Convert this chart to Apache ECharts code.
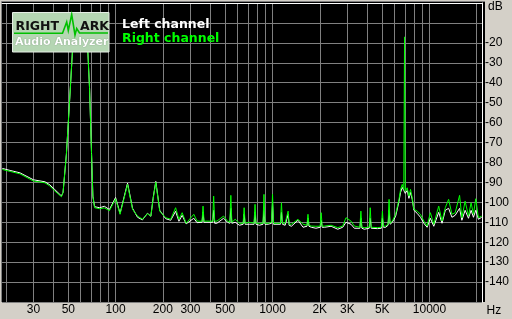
<!DOCTYPE html>
<html><head><meta charset="utf-8">
<script src="https://cdn.jsdelivr.net/npm/echarts@6/dist/echarts.min.js"></script>
<style>html,body{margin:0;padding:0;background:#d4d0c8;}#c{width:512px;height:319px;}</style>
</head><body><div id="c"></div>
<script>
// frequency grid (Hz)
const freqHz = [
 19,21.3,24.6,30,35.5,38.1,41.0,45.2,46.3,48.6,
 51.0,53.1,54.9,59.0,63.5,66.6,68.3,70.3,71.7,73.5,
 79.0,84.9,91.4,100,106.8,119.2,128.3,138,148.4,159.6,
 167.8,173.4,180.4,191.2,208.7,224.4,241.3,253.3,265.7,281.6,
 315,330.6,355.5,360.8,366,382.4,415.4,421.6,428,442.3,
 487.9,517,534.5,542.5,550.6,578.4,615.8,649.7,659.4,669.3,
 712.2,762.4,773.8,785.4,824.2,869.2,882.2,895.4,939.3,986,
 1000,1015,1123,1140,1157,1203,1238,1257,1276,1319,
 1454,1564,1657,1682,1707,1765,1890,2011,2041,2072,
 2145,2362,2604,2801,2939,3160,3320,3602,3656,3711,
 3840,4130,4192,4255,4334,4662,4939,5013,5088,5260,
 5445,5527,5610,5800,6085,6393,6544,6709,6857,6937,
 7009,7215,7396,7572,7762,7955,8345,8757,9203,9656,
 10130,10650,11450,12020,12610,13240,13900,14580,15550,16080,
 16870,17720,18410,19060,19710,20500,21510];
// right channel level (dB)
const rightDb = [
 -83.5,-84.5,-85.7,-89.3,-90.2,-91.8,-94.3,-97.2,-95,-76,
 -48.5,-24.5,-9.5,-6,-9.5,-24.5,-43,-75.5,-96.9,-102.7,
 -103.2,-102.8,-104.2,-98.2,-106,-91,-103.5,-106.9,-108.5,-105.7,
 -106.9,-98.5,-89.9,-104.4,-107.7,-108.5,-102.7,-108.5,-105.2,-110.5,
 -106,-109.4,-109.5,-101.9,-109.5,-109.4,-109.5,-96.9,-109.5,-109.4,
 -106.9,-109.5,-110,-96.5,-110,-108.5,-110.5,-110.5,-102.7,-110.5,
 -110,-110.5,-101,-110.5,-110.5,-110.5,-96,-110.5,-110.5,-110,
 -96,-110.5,-110.5,-100.2,-110.5,-110.5,-111,-104.4,-111,-111,
 -108.5,-111,-111.5,-106,-111.5,-111.9,-112,-112,-105.2,-112,
 -111.9,-111.5,-112.7,-111.9,-107.7,-109.4,-111.9,-112.5,-104.4,-112.5,
 -112.7,-112.5,-102.7,-112.5,-112.7,-112.7,-112.5,-104.4,-112,-111.9,
 -111,-98.5,-110.5,-109.4,-106,-98.5,-93.5,-91,-93.5,-17,
 -94.5,-92.7,-96.9,-93.5,-97.7,-103.5,-104.4,-106,-109.4,-111.9,
 -105.2,-111,-101.9,-109.4,-102.7,-98.5,-106,-105.2,-96.5,-107.7,
 -99.4,-106.9,-100.2,-106,-98.2,-107.7,-106.9];
// left channel level (dB)
const leftDb = [
 -83,-84,-85.2,-88.7,-89.7,-91.2,-93.6,-96.8,-95,-76,
 -48.5,-24.5,-9.5,-6,-9.5,-24.5,-43,-75.5,-96.9,-102.2,
 -102.7,-102,-103.6,-97.6,-105.5,-90.4,-103,-107.5,-108.8,-105.5,
 -107,-98,-89.5,-104,-108.2,-109,-104.5,-109.5,-106.5,-110.8,
 -108,-110.2,-110,-105,-110,-110,-110,-104,-110.5,-110.5,
 -108,-110,-110.5,-103,-110.5,-110,-111.5,-111,-106,-111,
 -111,-111,-105,-111,-111.5,-111,-104,-111,-111,-110.5,
 -100,-111,-111,-105,-111,-111.5,-111.5,-106,-111.5,-112,
 -109,-112.5,-112,-108,-112,-112.5,-113,-112.5,-109,-112.5,
 -112.5,-112,-113.5,-112.5,-110,-111,-113,-113,-108,-113,
 -113.5,-113,-108,-113,-113.5,-113.2,-113,-108,-112.5,-112.5,
 -111.5,-104,-111,-110,-107,-99.5,-95,-92.5,-94,-95,
 -95.5,-94,-98,-95,-98.5,-104,-105.5,-107.5,-110.5,-112.5,
 -108,-112,-105,-110.5,-104,-103,-107.5,-106.5,-103,-109,
 -104,-108,-104,-107.5,-104,-108.5,-107.5];
const seriesNames = ['Left channel', 'Right channel'];
const xGridHz = [20,30,40,50,60,70,80,90,100,200,300,400,500,600,700,800,900,1000,2000,3000,4000,5000,6000,7000,8000,9000,10000,20000];
const xLabelHz = [30,50,100,200,300,500,1000,2000,3000,5000,10000];
const xLabelText = ['30','50','100','200','300','500','1000','2K','3K','5K','10000'];
const yLabelDb = [-20,-30,-40,-50,-60,-70,-80,-90,-100,-110,-120,-130,-140];
const xUnit = 'Hz';
const yUnit = 'dB';

const pairs = arr => freqHz.map((f, i) => [f, arr[i]]);
const labelFont = '"Liberation Sans Narrow","Liberation Sans",Arial,sans-serif';

const chart = echarts.init(document.getElementById('c'), null, {renderer: 'canvas'});
chart.setOption({
  animation: false,
  backgroundColor: '#d4d0c8',
  grid: {left: 2, right: 27, top: 3, bottom: 17, show: true, backgroundColor: '#000', borderWidth: 0},
  legend: {
    left: 112, top: 13, orient: 'vertical', itemGap: 0, itemWidth: 0, itemHeight: 0, icon: 'rect',
    selectedMode: false,
    textStyle: {fontFamily: 'DejaVu Sans', fontWeight: 'bold', fontSize: 12.5, lineHeight: 14},
    data: [
      {name: seriesNames[0], textStyle: {color: '#ffffff'}},
      {name: seriesNames[1], textStyle: {color: '#00ff00'}}
    ]
  },
  xAxis: {
    type: 'log', logBase: 10, min: 18.9, max: 21600,
    axisLine: {show: true, lineStyle: {color: '#ffffff', width: 1}},
    axisTick: {show: false, customValues: xGridHz},
    splitLine: {show: true, lineStyle: {color: '#808080', width: 1}},
    minorSplitLine: {show: false},
    axisLabel: {
      customValues: xLabelHz, margin: 2, color: '#000', fontFamily: labelFont, fontSize: 12,
      formatter: v => { const i = xLabelHz.indexOf(Math.round(v)); return i >= 0 ? xLabelText[i] : ''; }
    }
  },
  yAxis: {
    type: 'value', position: 'right', min: -150, max: 0, interval: 10,
    axisLine: {show: true, lineStyle: {color: '#ffffff', width: 1}},
    axisTick: {show: false},
    splitLine: {show: true, lineStyle: {color: '#808080', width: 1}},
    axisLabel: {
      margin: 3, color: '#000', fontFamily: labelFont, fontSize: 12,
      formatter: v => yLabelDb.indexOf(v) >= 0 ? String(v) : ''
    }
  },
  graphic: [
    {type: 'rect', z: -10, silent: true, shape: {x: 2, y: 2, width: 483, height: 300}, style: {fill: '#000'}},
    {type: 'polyline', silent: true, shape: {points: [[1.5, 302], [1.5, 1.5], [485, 1.5]]}, style: {stroke: '#808080', lineWidth: 1, fill: null}},
    {type: 'text', silent: true, style: {x: 488, y: 6.5, text: yUnit, font: '12px ' + labelFont, fill: '#000', verticalAlign: 'middle'}},
    {type: 'text', silent: true, style: {x: 486.5, y: 310.5, text: xUnit, font: '12px ' + labelFont, fill: '#000', verticalAlign: 'middle'}},
    {type: 'rect', z: 100, silent: true, shape: {x: 12.5, y: 12.5, width: 96.5, height: 39.5}, style: {fill: '#b5d6b3', stroke: '#e6eee6', lineWidth: 1}},
    {type: 'polyline', z: 101, silent: true, shape: {points: [[14, 33.3], [62.5, 33.3], [66.7, 22], [68.3, 30.5], [71.7, 14.5], [75, 35], [76.7, 28.5], [79.5, 33], [108, 33]]}, style: {stroke: '#00c000', lineWidth: 1.6, fill: null}},
    {type: 'text', z: 102, silent: true, style: {x: 15.5, y: 26.5, text: 'RIGHT', font: 'bold 12.5px "DejaVu Sans"', fill: '#111', verticalAlign: 'middle'}},
    {type: 'text', z: 102, silent: true, style: {x: 80, y: 26.5, text: 'ARK', font: 'bold 12.5px "DejaVu Sans"', fill: '#111', verticalAlign: 'middle'}},
    {type: 'text', z: 102, silent: true, style: {x: 15, y: 42.5, text: 'Audio Analyzer', font: 'bold 11px "DejaVu Sans"', fill: '#ffffff', verticalAlign: 'middle', textShadowColor: '#587858', textShadowBlur: 1, textShadowOffsetX: 0, textShadowOffsetY: 0}}
  ],
  series: [
    {name: seriesNames[0], type: 'line', data: pairs(leftDb), showSymbol: false, symbol: 'none',
     lineStyle: {color: '#ffffff', width: 1}, itemStyle: {color: '#ffffff'}, z: 2},
    {name: seriesNames[1], type: 'line', data: pairs(rightDb), showSymbol: false, symbol: 'none',
     lineStyle: {color: '#00ff00', width: 1}, itemStyle: {color: '#00ff00'}, z: 3}
  ]
});
</script>
</body></html>
